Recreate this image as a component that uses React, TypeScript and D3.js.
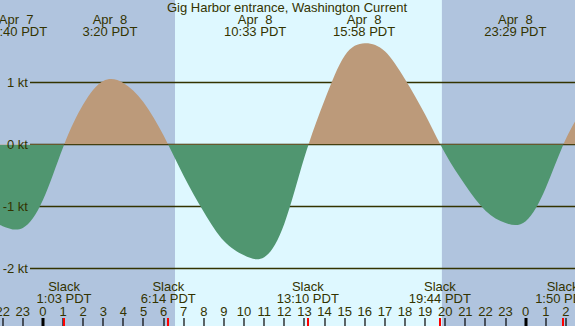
import React, { useRef, useEffect } from "react";
import * as d3 from "d3";

const title = "Gig Harbor entrance, Washington Current";

// hourly current readings (knots)
const sampleTimes = [
  "2024-04-07 21:00", "2024-04-07 22:00", "2024-04-07 23:00",
  "2024-04-08 00:00", "2024-04-08 01:00", "2024-04-08 02:00", "2024-04-08 03:00", "2024-04-08 04:00",
  "2024-04-08 05:00", "2024-04-08 06:00", "2024-04-08 07:00", "2024-04-08 08:00", "2024-04-08 09:00",
  "2024-04-08 10:00", "2024-04-08 11:00", "2024-04-08 12:00", "2024-04-08 13:00", "2024-04-08 14:00",
  "2024-04-08 15:00", "2024-04-08 16:00", "2024-04-08 17:00", "2024-04-08 18:00", "2024-04-08 19:00",
  "2024-04-08 20:00", "2024-04-08 21:00", "2024-04-08 22:00", "2024-04-08 23:00",
  "2024-04-09 00:00", "2024-04-09 01:00", "2024-04-09 02:00", "2024-04-09 03:00",
];
const sampleKnots = [
  -1.2, -1.32, -1.35,
  -0.9, -0.05, 0.64, 1.02, 0.99,
  0.68, 0.14, -0.51, -1.09, -1.56,
  -1.79, -1.82, -1.28, -0.21, 0.71,
  1.43, 1.63, 1.5, 1.05, 0.48,
  -0.15, -0.66, -1.07, -1.27,
  -1.24, -0.7, 0.09, 0.65,
];

// max flood / ebb
const extremeTimes = ["2024-04-07 22:40", "2024-04-08 03:20", "2024-04-08 10:33", "2024-04-08 15:58", "2024-04-08 23:29"];
// slack water
const slackTimes = ["2024-04-08 01:03", "2024-04-08 06:14", "2024-04-08 13:10", "2024-04-08 19:44", "2024-04-09 01:50"];

const sunrise = "2024-04-08 06:34";
const sunset = "2024-04-08 19:50";
const viewStart = "2024-04-07 21:52";
const viewEnd = "2024-04-09 02:27";

const yTicks = [1, 0, -1, -2];

const W = 575;
const H = 326;
const font = "'Liberation Sans', Arial, sans-serif";
const ink = "#333300";

const parse = d3.timeParse("%Y-%m-%d %H:%M");

export default function App() {
  const svgRef = useRef(null);

  useEffect(() => {
    document.body.style.margin = "0";
    const svg = d3.select(svgRef.current);
    svg.selectAll("*").remove();

    const data = sampleTimes.map((t, i) => ({ date: parse(t), v: sampleKnots[i] }));

    const x = d3.scaleTime().domain([parse(viewStart), parse(viewEnd)]).range([0, W]);
    const y = d3.scaleLinear().domain([0, 1]).range([144.3, 82.3]);
    const y0 = y(0);

    // night / day background
    svg.append("rect").attr("width", W).attr("height", H).attr("fill", "#b0c4de");
    svg
      .append("rect")
      .attr("x", x(parse(sunrise)))
      .attr("width", x(parse(sunset)) - x(parse(sunrise)))
      .attr("height", H)
      .attr("fill", "#def8ff");

    // grid
    svg
      .selectAll(".grid")
      .data(yTicks)
      .join("line")
      .attr("x1", 30)
      .attr("x2", W)
      .attr("y1", d => Math.round(y(d)) + 0.5)
      .attr("y2", d => Math.round(y(d)) + 0.5)
      .attr("stroke", ink)
      .attr("stroke-width", 1.3);

    // fills
    const defs = svg.append("defs");
    defs.append("clipPath").attr("id", "flood").append("rect").attr("width", W).attr("height", y0 + 0.2);
    defs.append("clipPath").attr("id", "ebb").append("rect").attr("y", y0 + 0.6).attr("width", W).attr("height", H);

    const area = d3
      .area()
      .x(d => x(d.date))
      .y0(y0)
      .y1(d => y(d.v))
      .curve(d3.curveNatural);

    svg.append("path").datum(data).attr("d", area).attr("fill", "#bc9a7a").attr("clip-path", "url(#flood)");
    svg.append("path").datum(data).attr("d", area).attr("fill", "#509670").attr("clip-path", "url(#ebb)");

    svg
      .selectAll(".ylab")
      .data(yTicks)
      .join("text")
      .attr("x", 28)
      .attr("y", d => y(d) + 4.5)
      .attr("text-anchor", "end")
      .attr("font-family", font)
      .attr("font-size", 13)
      .attr("fill", ink)
      .text(d => `${d} kt`);

    // top labels
    svg
      .append("text")
      .attr("x", 287)
      .attr("y", 12)
      .attr("text-anchor", "middle")
      .attr("font-family", font)
      .attr("font-size", 13)
      .attr("fill", ink)
      .text(title);

    const dayFmt = d3.timeFormat("%b %e");
    const timeFmt = d3.timeFormat("%-H:%M PDT");

    const ext = svg
      .selectAll(".ext")
      .data(extremeTimes.map(parse))
      .join("text")
      .attr("text-anchor", "middle")
      .attr("font-family", font)
      .attr("font-size", 13)
      .attr("fill", ink)
      .style("white-space", "pre");
    ext.append("tspan").attr("x", d => x(d)).attr("y", 24).text(d => dayFmt(d));
    ext.append("tspan").attr("x", d => x(d)).attr("y", 36).text(d => timeFmt(d));

    const slack = svg
      .selectAll(".slack")
      .data(slackTimes.map(parse))
      .join("text")
      .attr("text-anchor", "middle")
      .attr("font-family", font)
      .attr("font-size", 13)
      .attr("fill", ink);
    slack.append("tspan").attr("x", d => x(d)).attr("y", 291).text("Slack");
    slack.append("tspan").attr("x", d => x(d)).attr("y", 303).text(d => timeFmt(d));

    // hour axis
    const hours = d3.timeHour.range(d3.timeHour.ceil(x.domain()[0]), x.domain()[1]);
    svg
      .selectAll(".hlab")
      .data(hours)
      .join("text")
      .attr("x", d => x(d))
      .attr("y", 315.5)
      .attr("text-anchor", "middle")
      .attr("font-family", font)
      .attr("font-size", 13)
      .attr("fill", ink)
      .text(d3.timeFormat("%-H"));

    svg
      .selectAll(".htick")
      .data(hours)
      .join("line")
      .attr("x1", d => Math.round(x(d)))
      .attr("x2", d => Math.round(x(d)))
      .attr("y1", 318)
      .attr("y2", H)
      .attr("stroke", "#000")
      .attr("stroke-width", d => (d.getHours() === 0 ? 3 : 1.2));

    svg
      .selectAll(".stick")
      .data(slackTimes.map(parse))
      .join("line")
      .attr("x1", d => Math.round(x(d)))
      .attr("x2", d => Math.round(x(d)))
      .attr("y1", 318)
      .attr("y2", H)
      .attr("stroke", "#ff0000")
      .attr("stroke-width", 2);
  }, []);

  return <svg ref={svgRef} width={W} height={H} style={{ display: "block" }} />;
}
